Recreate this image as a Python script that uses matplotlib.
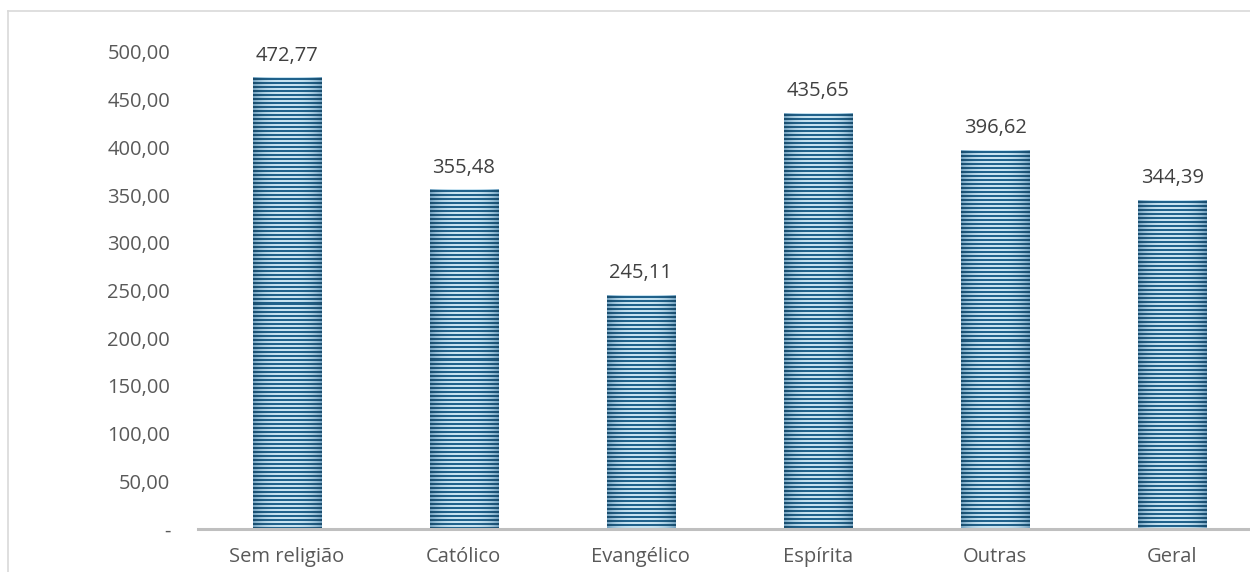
import matplotlib as mpl

mpl.use('Agg')

import matplotlib.pyplot as plt
import numpy as np
from matplotlib.lines import Line2D

# data
categorias = ['Sem religião', 'Católico', 'Evangélico', 'Espírita', 'Outras', 'Geral']
valores = [472.77, 355.48, 245.11, 435.65, 396.62, 344.39]
yticks = [0, 50, 100, 150, 200, 250, 300, 350, 400, 450, 500]

plt.rcParams['font.family'] = ['Open Sans', 'DejaVu Sans']

W, H, DPI = 1250, 572, 100
fig = plt.figure(figsize=(W / DPI, H / DPI), dpi=DPI)
ax = fig.add_axes([198 / W, 43 / H, 1063 / W, 477 / H])

x = np.arange(len(categorias))
bars = ax.bar(x, valores, width=0.384, color='none', edgecolor='none', zorder=2)

# striped, shaded fill for each bar
px_per_unit = 477.0 / 500
dark = np.array([30, 90, 128]) / 255
light_c = np.array([200, 228, 242]) / 255
light_e = np.array([115, 162, 192]) / 255
for b in bars:
    x0 = b.get_x()
    w = b.get_width()
    h = b.get_height()
    nrows = int(round(h * px_per_unit))
    ncols = 68
    t = np.linspace(-1, 1, ncols)
    shade = np.clip(1 - np.abs(t) ** 3, 0, 1)[:, None]
    light_row = light_e + (light_c - light_e) * shade
    dark_row = np.clip(dark * (0.85 + 0.25 * shade), 0, 1)
    img = np.zeros((nrows, ncols, 3))
    for r in range(nrows):
        img[r] = dark_row if (r % 4) in (1, 2) else light_row
    ax.imshow(img, extent=(x0, x0 + w, 0, h), aspect='auto',
              interpolation='nearest', origin='upper', zorder=2)

ax.set_xlim(-0.5, len(categorias) - 0.5)
ax.set_ylim(0, 500)

# labels on top
for xi, v in zip(x, valores):
    ax.annotate(f'{v:.2f}'.replace('.', ','), (xi, v), xytext=(0, 16),
                textcoords='offset points', ha='center', va='center',
                fontsize=14.5, color='#404040')

ax.set_yticks(yticks)
ax.set_yticklabels(['-' if v == 0 else f'{v:.2f}'.replace('.', ',') for v in yticks])
ax.set_xticks(x)
ax.set_xticklabels(categorias)
ax.tick_params(axis='y', length=0, pad=20, labelsize=14.5, labelcolor='#595959')
ax.tick_params(axis='x', length=0, pad=13, labelsize=14.5, labelcolor='#595959')

for s in ['top', 'right', 'left']:
    ax.spines[s].set_visible(False)
ax.spines['bottom'].set_color('#bfbfbf')
ax.spines['bottom'].set_linewidth(2.2)
ax.spines['bottom'].set_zorder(3)

# outer chart border
fig.add_artist(Line2D([7.5 / W, 7.5 / W], [0, 561 / H], color='#d9d9d9', lw=1.2))
fig.add_artist(Line2D([7.5 / W, 1], [561 / H, 561 / H], color='#d9d9d9', lw=1.2))

plt.savefig('out.png', dpi=DPI)
